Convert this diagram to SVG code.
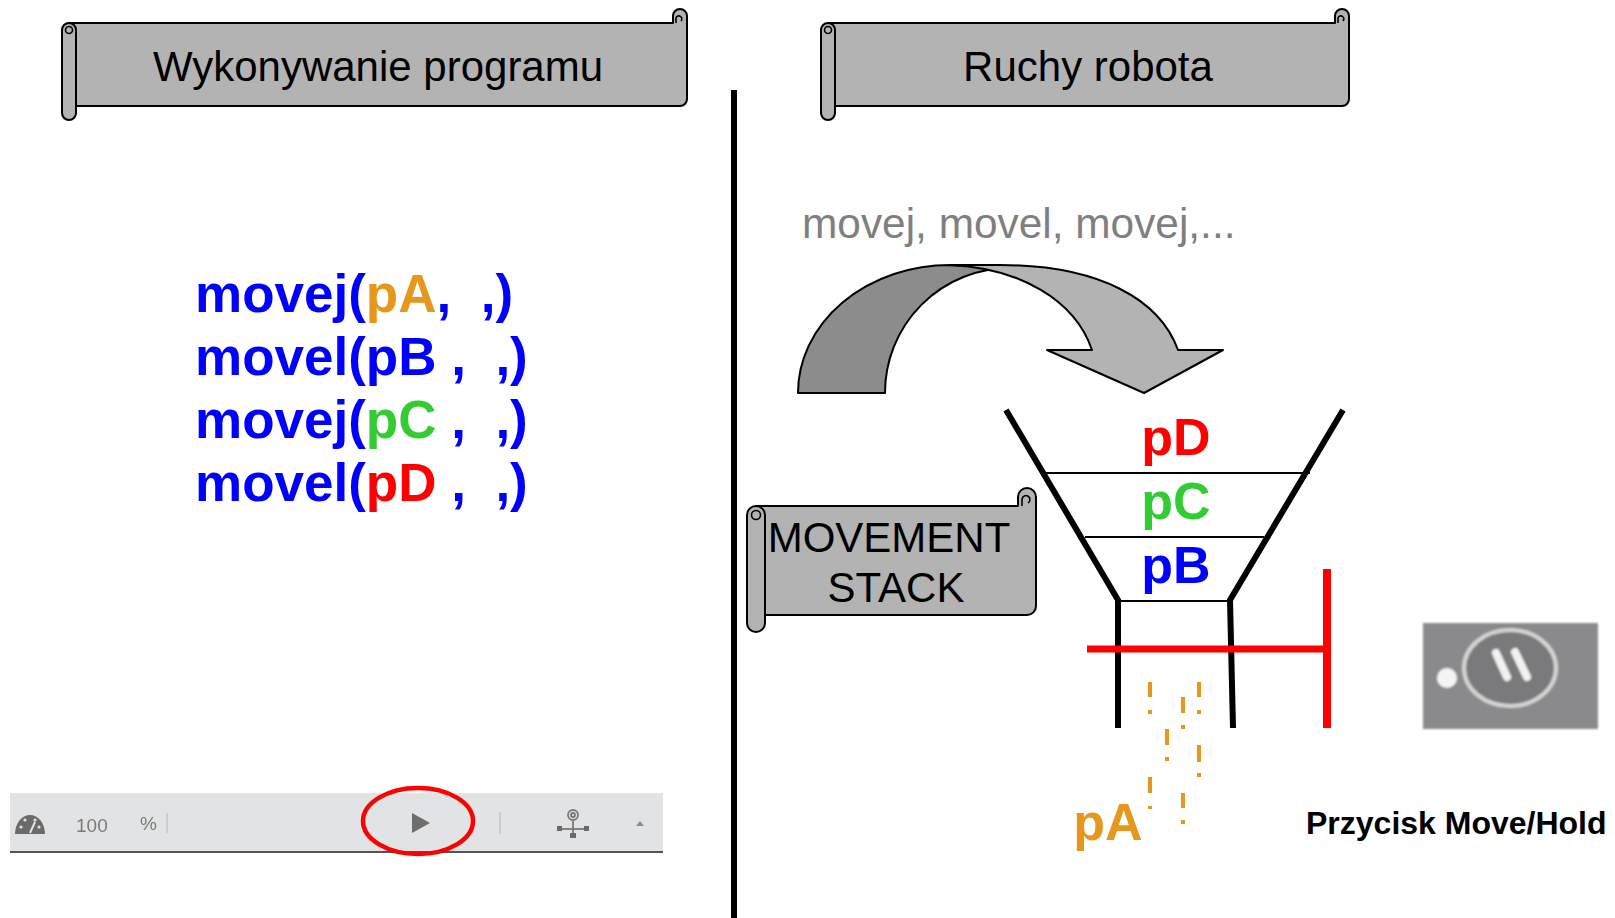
<svg xmlns="http://www.w3.org/2000/svg" width="1615" height="918" viewBox="0 0 1615 918">
  <style>
    .scroll { fill: #b3b3b3; stroke: #000; stroke-width: 2; stroke-linejoin: round; }
    .curl { fill: none; stroke: #000; stroke-width: 1.6; }
    .title { font-family: "Liberation Sans", Arial, sans-serif; font-size: 42px; fill: #000; }
    .code { font-family: "Liberation Sans", Arial, sans-serif; font-weight: bold; font-size: 53px; fill: #0000ff; }
    .slot { font-family: "Liberation Sans", Arial, sans-serif; font-weight: bold; font-size: 52px; text-anchor: middle; }
    .funnel { stroke: #000; stroke-width: 6; fill: none; }
    .shelf { stroke: #000; stroke-width: 2; }
    .drip { stroke: #e5981c; stroke-width: 4; fill: none; }
    .tb { font-family: "Liberation Sans", Arial, sans-serif; font-size: 19px; fill: #7a7a7a; }
  </style>
  <defs>
    <filter id="soft" x="-5%" y="-5%" width="110%" height="110%">
      <feGaussianBlur stdDeviation="1.3"/>
    </filter>
    <filter id="softer" x="-10%" y="-10%" width="120%" height="120%">
      <feGaussianBlur stdDeviation="0.6"/>
    </filter>
  </defs>

  <rect width="1615" height="918" fill="#fff"/>

  <!-- heading scroll: program execution -->
  <g id="title-program">
    <path class="scroll" d="M69,23 H673 V16 A7,7 0 0 1 687,16 V99 A7,7 0 0 1 680,106 H69 Z"/>
    <path class="scroll" d="M62,30 A7,7 0 0 1 76,30 V113 A7,7 0 0 1 62,113 Z"/>
    <circle class="curl" cx="69" cy="30" r="3.5"/>
    <path class="curl" d="M676,23 V18 A3,3 0 1 1 681,21"/>
    <text class="title" x="378" y="81" text-anchor="middle">Wykonywanie programu</text>
  </g>

  <!-- heading scroll: robot motion -->
  <g id="title-motion">
    <path class="scroll" d="M828,23 H1335 V16 A7,7 0 0 1 1349,16 V99 A7,7 0 0 1 1342,106 H828 Z"/>
    <path class="scroll" d="M821,30 A7,7 0 0 1 835,30 V113 A7,7 0 0 1 821,113 Z"/>
    <circle class="curl" cx="828" cy="30" r="3.5"/>
    <path class="curl" d="M1338,23 V18 A3,3 0 1 1 1343,21"/>
    <text class="title" x="1088" y="81" text-anchor="middle">Ruchy robota</text>
  </g>

  <!-- vertical divider -->
  <g id="divider">
    <line x1="734" y1="90" x2="734" y2="918" stroke="#000" stroke-width="6"/>
  </g>

  <!-- program listing -->
  <g id="code">
    <text class="code" x="195" y="312" xml:space="preserve">movej(<tspan fill="#e5981c">pA</tspan>,  ,)</text>
    <text class="code" x="195" y="375" xml:space="preserve">movel(pB ,  ,)</text>
    <text class="code" x="195" y="438" xml:space="preserve">movej(<tspan fill="#33cc33">pC</tspan> ,  ,)</text>
    <text class="code" x="195" y="501" xml:space="preserve">movel(<tspan fill="#ff0000">pD</tspan> ,  ,)</text>
  </g>

  <!-- instruction stream -->
  <g id="motion-list">
    <text x="802" y="238" font-family="Liberation Sans, Arial, sans-serif" font-size="42.4" fill="#7f7f7f">movej, movel, movej,...</text>
  </g>

  <!-- curved arrow feeding the queue -->
  <g id="connectors">
    <path d="M798,393 A152,128 0 0 1 950,265 L1010,268 A125,125 0 0 0 885,393 Z" fill="#8c8c8c" stroke="#000" stroke-width="2" stroke-linejoin="round"/>
    <path d="M950,265 L1000,265 C1100,265 1160,300 1178,350 L1223,350 L1144,393 L1047,350 L1092,350 C1075,300 1020,268 950,265 Z" fill="#b3b3b3" stroke="#000" stroke-width="2" stroke-linejoin="round"/>
  </g>

  <!-- label scroll for the queue -->
  <g id="movement-stack-label">
    <path class="scroll" d="M756,506 H1018 V497 A9,9 0 0 1 1036,497 V606 A9,9 0 0 1 1027,615 H756 Z"/>
    <path class="scroll" d="M747,515 A9,9 0 0 1 765,515 V623 A9,9 0 0 1 747,623 Z"/>
    <circle class="curl" cx="756" cy="515" r="4.5"/>
    <path class="curl" d="M1022,506 V499 A4,4 0 1 1 1028,503"/>
    <text class="title" x="889" y="552" text-anchor="middle">MOVEMENT</text>
    <text class="title" x="896" y="602" text-anchor="middle">STACK</text>
  </g>

  <!-- funnel holding queued targets -->
  <g id="movement-stack">
    <line class="shelf" x1="1045" y1="473" x2="1310" y2="473"/>
    <line class="shelf" x1="1085" y1="537" x2="1264" y2="537"/>
    <line class="shelf" x1="1118" y1="601" x2="1232" y2="601"/>
    <polyline class="funnel" points="1006,410 1118,600 1118,728"/>
    <polyline class="funnel" points="1343,410 1230,600 1233,728"/>
    <text class="slot" x="1176" y="455" fill="#ff0000">pD</text>
    <text class="slot" x="1176" y="519" fill="#33cc33">pC</text>
    <text class="slot" x="1176" y="583" fill="#0000ff">pB</text>
  </g>

  <!-- hold barrier -->
  <g id="hold-bar">
    <line x1="1087" y1="649" x2="1330" y2="649" stroke="#ff0000" stroke-width="7"/>
    <line x1="1327" y1="569" x2="1327" y2="728" stroke="#ff0000" stroke-width="8"/>
  </g>

  <!-- target leaving the queue -->
  <g id="released-target">
    <path class="drip" d="M1150,682 V697 M1150,710 V714 M1150,777 V793 M1150,806 V809"/>
    <path class="drip" d="M1167,729 V745 M1167,757 V761"/>
    <path class="drip" d="M1183,697 V713 M1183,725 V729 M1183,793 V808 M1183,820 V824"/>
    <path class="drip" d="M1199,682 V697 M1199,710 V714 M1199,745 V762 M1199,773 V777"/>
    <text class="slot" x="1108" y="840" fill="#e5981c">pA</text>
  </g>

  <!-- Move/Hold key -->
  <g id="move-hold-button">
    <g filter="url(#soft)">
      <rect x="1423" y="623" width="175" height="106" fill="#8a8a8d"/>
      <ellipse cx="1510" cy="668" rx="46" ry="38" fill="#7a7a7d" stroke="#d4d4d4" stroke-width="4"/>
      <circle cx="1447" cy="678" r="10" fill="#f4f4f4"/>
      <line x1="1496" y1="653" x2="1507" y2="677" stroke="#f2f2f2" stroke-width="8" stroke-linecap="round"/>
      <line x1="1515" y1="652" x2="1527" y2="677" stroke="#f2f2f2" stroke-width="8" stroke-linecap="round"/>
    </g>
    <text x="1306" y="834" font-family="Liberation Sans, Arial, sans-serif" font-weight="bold" font-size="32" fill="#000">Przycisk Move/Hold</text>
  </g>

  <!-- pendant toolbar -->
  <g id="toolbar">
    <rect x="10" y="793" width="653" height="59" fill="#e2e3e4"/>
    <line x1="10" y1="852" x2="663" y2="852" stroke="#555" stroke-width="2"/>
    <g filter="url(#softer)">
      <path d="M15,834 A15,19 0 0 1 45,834 Z" fill="#6a6a6a"/>
      <g fill="#e2e3e4">
        <circle cx="21" cy="827" r="1.6"/>
        <circle cx="25" cy="820" r="1.6"/>
        <circle cx="35" cy="820" r="1.6"/>
        <circle cx="39" cy="827" r="1.6"/>
      </g>
      <line x1="30" y1="833" x2="35" y2="822" stroke="#e2e3e4" stroke-width="2"/>
      <text class="tb" x="76" y="832">100</text>
      <text class="tb" x="140" y="830" font-size="17">%</text>
      <line x1="167" y1="813" x2="167" y2="833" stroke="#c4c4c4" stroke-width="1.5"/>
      <polygon points="412,813 430,823 412,833" fill="#6e6e6e"/>
      <line x1="500" y1="812" x2="500" y2="834" stroke="#c4c4c4" stroke-width="1.5"/>
      <g stroke="#7a7a7a" fill="none" stroke-width="1.8">
        <circle cx="573" cy="815" r="5"/>
        <circle cx="573" cy="815" r="2"/>
        <line x1="573" y1="821" x2="573" y2="835"/>
        <line x1="560" y1="829" x2="586" y2="829"/>
      </g>
      <g fill="#6a6a6a">
        <rect x="557" y="826" width="5" height="5"/>
        <rect x="584" y="826" width="5" height="5"/>
        <rect x="570" y="833" width="6" height="5"/>
      </g>
      <polygon points="636,826 644,826 640,821" fill="#8a8a8a"/>
    </g>
    <ellipse cx="418" cy="821" rx="55" ry="33" fill="none" stroke="#ff0000" stroke-width="4.5"/>
  </g>
</svg>
